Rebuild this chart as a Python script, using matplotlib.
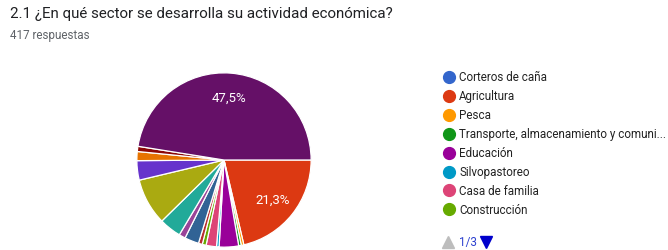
import matplotlib.pyplot as plt
from matplotlib.lines import Line2D

plt.rcParams['font.family'] = ['Roboto', 'DejaVu Sans']

title = "2.1 ¿En qué sector se desarrolla su actividad económica?"
subtitle = "417 respuestas"

# first legend page (1/3)
legend_labels = ["Corteros de caña", "Agricultura", "Pesca",
                 "Transporte, almacenamiento y comuni...", "Educación",
                 "Silvopastoreo", "Casa de familia", "Construcción"]

# response counts, in palette order (later entries are on legend pages 2-3)
counts = [0, 89, 2, 2, 15, 2, 8, 3, 3, 11, 5, 17, 36, 15, 7, 4, 198]
colors = ["#3366cc", "#dc3912", "#ff9900", "#109618", "#990099", "#0099c6",
          "#dd4477", "#66aa00", "#b82e2e", "#316395", "#994499", "#22aa99",
          "#aaaa11", "#6633cc", "#e67300", "#8b0707", "#651067"]

W, H = 668, 251
fig = plt.figure(figsize=(W / 100, H / 100), dpi=100)

fig.text(10 / W, 1 - 14 / H, title, fontsize=10.9, color="#202124", va="center")
fig.text(10 / W, 1 - 35 / H, subtitle, fontsize=8.4, color="#5f6368", va="center")

# pie
cx, cy, r = 224, 161, 88
ax = fig.add_axes([(cx - r) / W, (H - cy - r) / H, 2 * r / W, 2 * r / H])


def pct(p):
    return ("%.1f%%" % p).replace(".", ",") if p > 10 else ""


wedges, _, autotexts = ax.pie(counts, colors=colors, startangle=0, counterclock=False,
                              autopct=pct, pctdistance=0.72,
                              wedgeprops=dict(edgecolor="white", linewidth=0.9))
for t in autotexts:
    t.set_color("white")
    t.set_fontsize(9.5)
ax.set_xlim(-1.01, 1.01)
ax.set_ylim(-1.01, 1.01)
ax.set_aspect("equal")
ax.axis("off")

# legend (page 1)
y0, dy = 78, 18.9
for i, lab in enumerate(legend_labels):
    y = 1 - (y0 + i * dy) / H
    fig.add_artist(Line2D([449 / W], [y], marker="o", markersize=8.5,
                          color=colors[i], linestyle="none"))
    fig.text(459 / W, y, lab, fontsize=8.4, color="#222222", va="center")

# pager
py = 1 - 243 / H
fig.add_artist(Line2D([448 / W], [py], marker="^", markersize=8,
                      color="#bdbdbd", linestyle="none"))
fig.text(459 / W, py, "1/3", fontsize=8.4, color="#2a3fcf", va="center")
fig.add_artist(Line2D([486 / W], [py], marker="v", markersize=9,
                      color="#0000cc", linestyle="none"))

fig.savefig("out.png", dpi=100, facecolor="white")
